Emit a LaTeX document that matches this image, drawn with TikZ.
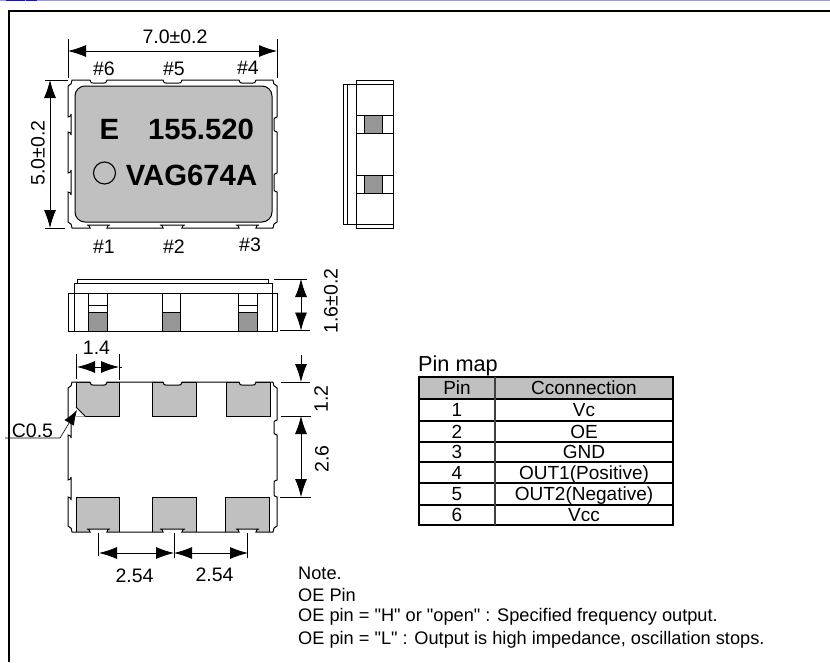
\documentclass[tikz,border=0pt]{standalone}
\usepackage{fontspec}
\setmainfont{Liberation Sans}[Ligatures=TeXOff]
\usetikzlibrary{arrows.meta}
\definecolor{padgray}{HTML}{C0C0C0}
\definecolor{darkpad}{HTML}{969696}
\definecolor{stripe}{HTML}{9C9CD0}
\definecolor{navy}{HTML}{1A1A8C}
\newcommand\labelsize{\fontsize{19.5}{19.5}\selectfont}
\newcommand\markingsize{\bfseries\fontsize{29.3}{29.3}\selectfont}
% one castellation on a horizontal edge: from x=#1 to x=#2 at y=#3, depth #4
\newcommand\hnotch[4]{-- (#1,#3) .. controls ({#1+1},{#3+#4}) .. ({#1+3},{#3+#4}) -- ({#2-3},{#3+#4}) .. controls ({#2-1},{#3+#4}) .. (#2,#3) }
% one castellation on a vertical edge
\newcommand\vnotch[4]{-- (#3,#1) .. controls ({#3+#4},{#1+1}) .. ({#3+#4},{#1+3}) -- ({#3+#4},{#2-3}) .. controls ({#3+#4},{#2-1}) .. (#3,#2) }
% body outline: top y, bottom y, side notches
\newcommand\bodyoutline[6]{
  (72,#1) \hnotch{90}{107}{#1}{3} \hnotch{163}{182}{#1}{3} \hnotch{239}{256}{#1}{3}
  -- (273,#1) .. controls (273,{#1+3}) and (274,{#1+5}) .. (277,{#1+6})
  \vnotch{#3}{#4}{277}{-3} \vnotch{#5}{#6}{277}{-3}
  -- (277,{#2-6}) .. controls (274,{#2-5}) and (273,{#2-3}) .. (273,#2)
  \hnotch{256}{239}{#2}{-3} \hnotch{182}{163}{#2}{-3} \hnotch{107}{90}{#2}{-3}
  -- (72,#2) .. controls (72,{#2-3}) and (71,{#2-5}) .. (68,{#2-6})
  \vnotch{#6}{#5}{68}{3} \vnotch{#4}{#3}{68}{3}
  -- (68,{#1+6}) .. controls (71,{#1+5}) and (72,{#1+3}) .. (72,#1) -- cycle }
\tikzset{
  part/.style={draw=black,line width=1pt},
  thin part/.style={draw=black,line width=0.8pt},
  pad/.style={draw=black,line width=1pt,fill=padgray},
  dark pad/.style={draw=black,line width=1pt,fill=darkpad},
  extline/.style={draw=black,line width=0.6pt},
  dim/.style={draw=black,line width=0.8pt,{Latex[length=18pt,width=12pt]}-{Latex[length=18pt,width=12pt]}},
  dimend/.style={draw=black,line width=0.8pt,-{Latex[length=18pt,width=12pt]}},
  lbl/.style={inner sep=0pt,font=\labelsize},
  marking/.style={inner sep=0pt,font=\markingsize},
  tableline/.style={draw=black,line width=1.6pt},
  tabletxt/.style={inner sep=0pt,text height=13pt,text depth=0pt,font=\fontsize{19}{19}\selectfont},
  notetxt/.style={inner sep=0pt,anchor=west,font=\fontsize{18.2}{18.2}\selectfont}
}
\begin{document}
\begin{tikzpicture}[x=1pt,y=-1pt]
\useasboundingbox (0,0) rectangle (830,662);
% page strip and frame
\fill[stripe] (0,0) rectangle (830,1.2);
\fill[navy] (6,0) rectangle (25,1.2);
\fill[navy] (26,0) rectangle (37,1.2);
\draw[line width=2pt] (9,662) -- (9,11) -- (830,11);

% ---- top view
\path[part,fill=white] \bodyoutline{80}{228}{117}{132}{173}{192};
\draw[part,fill=padgray,rounded corners=10pt] (75,86) rectangle (272,222);
\node[marking] (mE) at (109.5,129.5) {E};
\node[marking] (mfreq) at (201,129.5) {155.520};
\node[marking] (mcode) at (191.5,175.5) {VAG674A};
\node[draw=black,line width=1.1pt,circle,minimum size=22pt,inner sep=0pt] (dot) at (104.5,173) {};
% dims of top view
\coordinate (wl) at (68,51); \coordinate (wr) at (277,51);
\draw[extline] (68,39) -- (68,78);
\draw[extline] (277,39) -- (277,78);
\draw[dim] (wl) -- (wr);
\node[lbl] (w) at (175,37) {7.0±0.2};
\coordinate (ht) at (50,80); \coordinate (hb) at (50,228);
\draw[extline] (45,80) -- (68,80);
\draw[extline] (45,228) -- (65,228);
\draw[dim] (ht) -- (hb);
\node[lbl,rotate=90] (h) at (38,153) {5.0±0.2};
\node[lbl] (p6) at (104,69) {\#6};
\node[lbl] (p5) at (174,69) {\#5};
\node[lbl] (p4) at (248,68) {\#4};
\node[lbl] (p1) at (104,247) {\#1};
\node[lbl] (p2) at (174,247) {\#2};
\node[lbl] (p3) at (250,245) {\#3};

% ---- side view
\draw[part] (356,84) -- (343,84) -- (343,224) -- (356,224);
\draw[thin part] (347,84) -- (347,224);
\draw[part] (356,80) rectangle (393,228);
\draw[thin part] (356,84) -- (393,84);
\draw[thin part] (356,224) -- (393,224);
\draw[thin part] (356,115) -- (393,115);
\draw[thin part] (356,133) -- (393,133);
\draw[thin part] (356,175) -- (393,175);
\draw[thin part] (356,193) -- (393,193);
\draw[dark pad] (364,115) rectangle (382,133);
\draw[dark pad] (364,175) rectangle (382,193);

% ---- front view
\draw[part] (77,283) -- (77,279) -- (268,279) -- (268,283);
\draw[part] (74,293) -- (74,283) -- (272,283) -- (272,293);
\draw[part] (68,293) rectangle (277,331);
\draw[thin part] (74,293) -- (74,331);
\draw[thin part] (272,293) -- (272,331);
\draw[part] (88,293) rectangle (107,331);
\draw[part] (162,293) rectangle (180,331);
\draw[part] (238,293) rectangle (257,331);
\draw[dark pad] (88,312) rectangle (107,331);
\draw[dark pad] (162,312) rectangle (180,331);
\draw[dark pad] (238,312) rectangle (257,331);
\draw[thin part] (88,305) -- (107,305);
\draw[thin part] (238,305) -- (257,305);
\draw[extline] (274,279) -- (307,279);
\draw[extline] (280,330.5) -- (310,330.5);
\coordinate (tt) at (301,279); \coordinate (tb) at (301,330.5);
\draw[dim] (tt) -- (tb);
\node[lbl,rotate=90] (t) at (331,301) {1.6±0.2};

% ---- bottom view
\draw[pad] (76,382) rectangle (119,416);
\draw[pad] (152,382) rectangle (196,416);
\draw[pad] (226,382) rectangle (270,416);
\draw[pad] (76,497) rectangle (119,532);
\draw[pad] (152,497) rectangle (196,532);
\draw[pad] (225,497) rectangle (269,532);
\fill[white] (73,376) -- (75.4,376) -- (75.4,407) -- (85,416.6) -- (73,416.6) -- cycle;
\draw[line width=1pt] (76,407) -- (85,416);
\fill[white,even odd rule] (62,376) rectangle (283,538) \bodyoutline{382}{532}{420}{435}{480}{497};
\path[part] \bodyoutline{382}{532}{420}{435}{480}{497};
% 1.4
\draw[extline] (76,354) -- (76,379);
\draw[extline] (119,354) -- (119,380);
\coordinate (pl) at (77,367); \coordinate (pm) at (97.5,367); \coordinate (pr) at (119,367);
\draw[dimend] (pm) -- (pl);
\draw[dimend] (pm) -- (pr);
\draw[extline] (119,367) -- (122,367);
\node[lbl] (pw) at (96.5,348) {1.4};
% C0.5
\coordinate (cs) at (5,438); \coordinate (ck) at (60,438); \coordinate (ct) at (77,410);
\draw[line width=0.6pt,-{Latex[length=15pt,width=11pt]}] (cs) -- (ck) -- (ct);
\node[lbl] (cl) at (32.5,431) {C0.5};
% 1.2 and 2.6
\draw[extline] (281,382) -- (310,382);
\draw[extline] (281,416) -- (311,416);
\draw[extline] (280,497) -- (311,497);
\coordinate (ua) at (301,355); \coordinate (ub) at (301,382);
\coordinate (la) at (301,416); \coordinate (lb) at (301,497);
\draw[dimend] (ua) -- (ub);
\draw[dim] (la) -- (lb);
\node[lbl,rotate=90] (u) at (321,399) {1.2};
\node[lbl,rotate=90] (l) at (322,459) {2.6};
% 2.54
\draw[extline] (98,533) -- (98,556);
\draw[extline] (174,533) -- (174,558);
\draw[extline] (247,533) -- (247,558);
\coordinate (xa) at (99,553); \coordinate (xb) at (174,553); \coordinate (xc) at (248,553);
\draw[dim] (xa) -- (xb);
\draw[dim] (xb) -- (xc);
\node[lbl] (d1) at (134.5,576) {2.54};
\node[lbl] (d2) at (214.5,575) {2.54};

% ---- pin map
\node[inner sep=0pt,anchor=west,font=\fontsize{21.7}{21.7}\selectfont] (pmtitle) at (418,366) {Pin map};
\fill[padgray] (419,377) rectangle (673,399);
\foreach \yy in {377,399,421,442,462,483,505,525}
  \draw[tableline] (419,\yy) -- (673,\yy);
\draw[tableline] (419,376.2) -- (419,525.8);
\draw[tableline] (673,376.2) -- (673,525.8);
\draw[line width=1.2pt,draw=black!75] (495,377) -- (495,525);
\node[tabletxt] (h1) at (457,388) {Pin};
\node[tabletxt] (h2) at (584,388) {Cconnection};
\node[tabletxt] (a1) at (457,410) {1};
\node[tabletxt] (b1) at (584,410) {Vc};
\node[tabletxt] (a2) at (457,431.5) {2};
\node[tabletxt] (b2) at (584,431.5) {OE};
\node[tabletxt] (a3) at (457,452) {3};
\node[tabletxt] (b3) at (584,452) {GND};
\node[tabletxt] (a4) at (457,473) {4};
\node[tabletxt] (b4) at (584,473) {OUT1(Positive)};
\node[tabletxt] (a5) at (457,494) {5};
\node[tabletxt] (b5) at (584,494) {OUT2(Negative)};
\node[tabletxt] (a6) at (457,515) {6};
\node[tabletxt] (b6) at (584,515) {Vcc};

% ---- notes
\node[notetxt] (n1) at (298,573) {Note.};
\node[notetxt] (n2) at (298,595) {OE Pin};
\node[notetxt] (n3) at (298,617) {OE pin = "H" or "open" : Specified frequency output.};
\node[notetxt] (n4) at (298,639.5) {OE pin = "L" : Output is high impedance, oscillation stops.};
\end{tikzpicture}
\end{document}
